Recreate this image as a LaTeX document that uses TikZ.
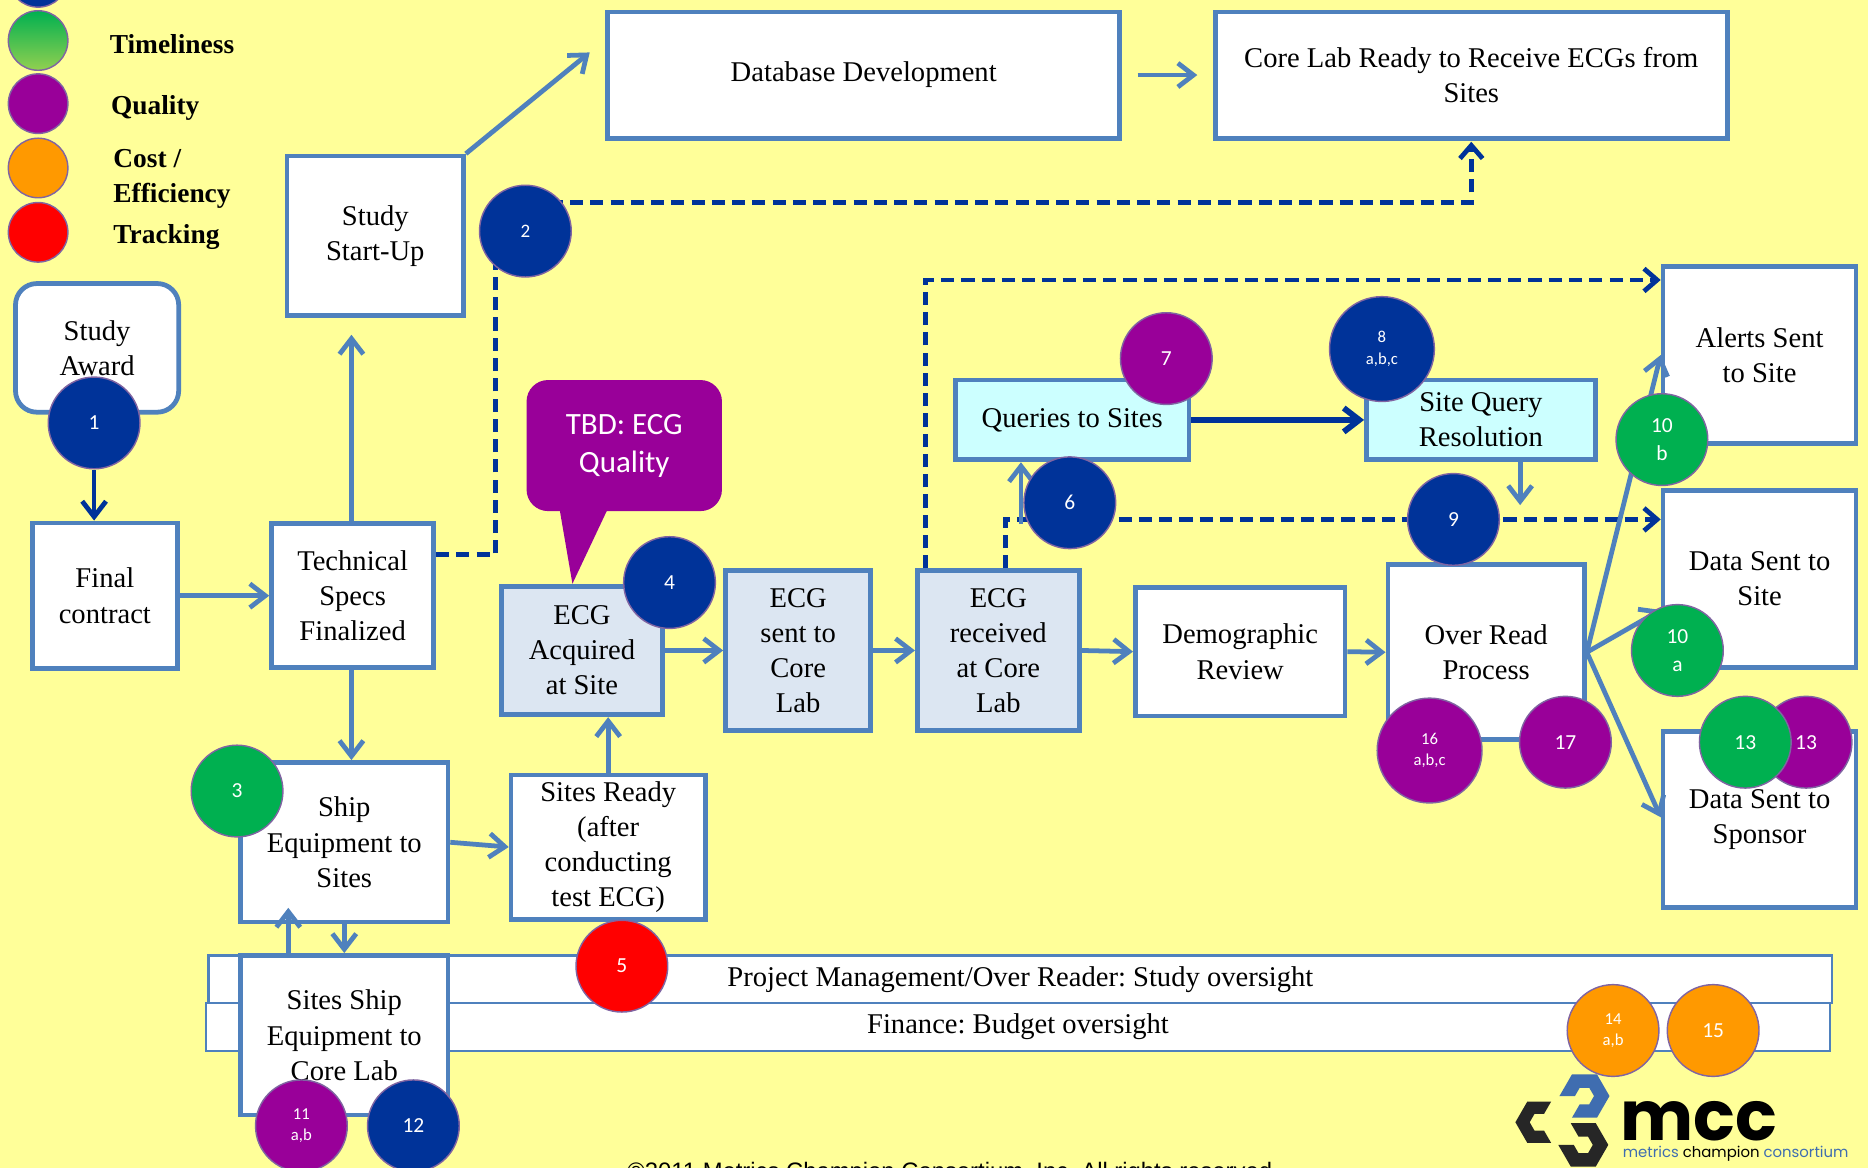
\documentclass[tikz,border=0pt]{standalone}
\usepackage{fontspec}
\setmainfont{Liberation Serif}
\newfontfamily\calfont{Carlito}
\newfontfamily\arialfont{Liberation Sans}
\newfontfamily\logofont{Poppins}
\usepackage{xcolor}
\usepackage{tikz}
\usetikzlibrary{arrows.meta,calc}
\frenchspacing
\definecolor{paper}{HTML}{FFFF99}
\definecolor{boxblue}{HTML}{4F81BD}
\definecolor{navy}{HTML}{003399}
\definecolor{qpurple}{HTML}{990099}
\definecolor{tgreen}{HTML}{00B050}
\definecolor{lgreen}{HTML}{92D050}
\definecolor{corange}{HTML}{FF9900}
\definecolor{tred}{HTML}{FF0000}
\definecolor{ecgfill}{HTML}{DCE6F2}
\definecolor{qfill}{HTML}{CCFFFF}
\definecolor{ring}{HTML}{8064A2}
\definecolor{logoblue}{HTML}{3F6DB0}
\tikzstyle{box}=[draw=boxblue,line width=4pt,fill=white,align=center,inner sep=2pt,font=\fontsize{24}{29.5}\selectfont]
\tikzstyle{ecg}=[box,fill=ecgfill]
\tikzstyle{query}=[box,fill=qfill]
\tikzstyle{band}=[draw=boxblue,line width=2pt,fill=white,outer sep=0pt,font=\fontsize{24}{29.5}\selectfont]
\tikzstyle{flow}=[draw=boxblue,line width=4pt,-{Straight Barb[length=13pt,width=20pt]}]
\tikzstyle{dashflow}=[draw=navy,line width=4pt,dash pattern=on 11pt off 6pt,-{Straight Barb[length=11pt,width=19pt]}]
\tikzstyle{bubble}=[circle,draw=ring,line width=1.2pt,minimum size=77pt,inner sep=0pt,text=white,align=center,font=\calfont\fontsize{18}{24}\selectfont]
\tikzstyle{twoline}=[font=\calfont\fontsize{14}{18}\selectfont]
\tikzstyle{keytext}=[anchor=west,align=left,inner sep=0pt,font=\bfseries\fontsize{23}{29}\selectfont]

\begin{document}
\begin{tikzpicture}[x=1pt,y=-1pt]
	\useasboundingbox (0,0) rectangle (1568,980);
	\clip (0,0) rectangle (1568,980);
	\fill[paper] (0,0) rectangle (1568,980);

	\node[bubble,minimum size=50pt,fill=navy] (lsafe) at (32,-19) {};
	\node[bubble,minimum size=50pt,top color=tgreen,bottom color=lgreen] (ltime) at (32,34) {};
	\node[bubble,minimum size=50pt,fill=qpurple] (lqual) at (32,87) {};
	\node[bubble,minimum size=50pt,fill=corange] (lcost) at (32,141) {};
	\node[bubble,minimum size=50pt,fill=tred] (ltrack) at (32,195) {};
	\node[keytext] (ktime) at (92,37) {Timeliness};
	\node[keytext] (kqual) at (93,91) {Quality};
	\node[keytext] (kcost) at (95,150) {Cost /\\Efficiency};
	\node[keytext] (ktrack) at (95,199) {Tracking};

	\node[band,minimum width=1363pt,minimum height=40pt] (pm) at (856.5,822) {Project Management/Over Reader: Study oversight};
	\node[band,minimum width=1363pt,minimum height=40pt] (fin) at (854.5,862) {Finance: Budget oversight};

	\node[box,rounded corners=18pt,minimum width=137pt,minimum height=108pt] (award) at (81.5,292) {Study\\Award};
	\node[box,minimum width=122pt,minimum height=122pt] (final) at (88,500) {Final\\contract};
	\node[box,minimum width=136pt,minimum height=121pt] (tech) at (296,500) {Technical\\Specs\\Finalized};
	\node[box,minimum width=148pt,minimum height=134pt] (startup) at (315,198) {Study\\Start-Up};
	\node[box,minimum width=430pt,minimum height=106pt] (dbdev) at (725,63) {Database Development};
	\node[box,minimum width=430pt,minimum height=106pt] (coreready) at (1235,63) {Core Lab Ready to Receive ECGs from\\Sites};
	\node[ecg,minimum width=135pt,minimum height=108pt] (acq) at (488.5,546) {ECG\\Acquired\\at Site};
	\node[ecg,minimum width=122pt,minimum height=134pt] (sent) at (670,546) {ECG\\sent to\\Core\\Lab};
	\node[ecg,minimum width=136pt,minimum height=134pt] (recv) at (838,546) {ECG\\received\\at Core\\Lab};
	\node[box,minimum width=176pt,minimum height=108pt] (demo) at (1041,547) {Demographic\\Review};
	\node[box,minimum width=165pt,minimum height=147pt] (overread) at (1247.5,547.5) {Over Read\\Process};
	\node[query,minimum width=196pt,minimum height=67pt] (queries) at (900,352.5) {Queries to Sites};
	\node[query,minimum width=192pt,minimum height=67pt] (sqr) at (1243,352.5) {Site Query\\Resolution};
	\node[box,minimum width=162pt,minimum height=148pt] (alerts) at (1477,298) {Alerts Sent\\to Site};
	\node[box,minimum width=162pt,minimum height=148pt] (dsite) at (1477,486) {Data Sent to\\Site};
	\node[box,minimum width=162pt,minimum height=148pt] (dsponsor) at (1477,688) {Data Sent to\\Sponsor};
	\node[box,minimum width=174pt,minimum height=134pt] (ship) at (289,707) {Ship\\Equipment to\\Sites};
	\node[box,minimum width=163pt,minimum height=121pt] (ready) at (510.5,711) {Sites Ready\\(after\\conducting\\test ECG)};
	\node[box,minimum width=174pt,minimum height=134pt] (shipcore) at (289,869) {Sites Ship\\Equipment to\\Core Lab};

	\node[fill=qpurple,rounded corners=18pt,minimum width=164pt,minimum height=110pt,text=white,align=center,font=\calfont\fontsize{26}{32}\selectfont] (tbd) at (524,374) {TBD: ECG\\Quality};
	\fill[qpurple] ([xshift=-55pt,yshift=6pt]tbd.south) -- ([xshift=-8pt]acq.north) -- ([xshift=-12pt,yshift=6pt]tbd.south) -- cycle;

	\coordinate (dbtip) at (495,44);
	\coordinate (d2) at (416,170);
	\coordinate (q6) at (857,440);
	\coordinate (sq9) at (1276,424);
	\coordinate (shiptip) at (242,762);

	\draw[dashflow,shorten >=1pt] ([yshift=34.5pt]tech.east) -| (d2) -| (coreready.south);
	\draw[dashflow] ([xshift=9pt]recv.north west) |- ([yshift=-13pt]alerts.north west);
	\draw[dashflow] ([xshift=76pt]recv.north west) |- ([yshift=-26pt]dsite.north west);

	\draw[flow] (final.east) -- (tech.west);
	\draw[flow,shorten >=14pt] ([xshift=-1pt]tech.north) -- ([xshift=-1pt]tech.north |- startup.south);
	\draw[flow] (startup.north east) -- (dbtip);
	\draw[flow,shorten <=13pt,shorten >=13pt] (dbdev.east) -- (coreready.west);
	\draw[flow] ([xshift=-1pt]tech.south) -- ([xshift=-1pt]tech.south |- ship.north);
	\draw[flow] (ship.east) -- (ready.west);
	\draw[flow] (ready.north) -- (ready.north |- acq.south);
	\draw[flow] (ship.south) -- (shipcore.north);
	\draw[flow] ([xshift=-47pt]shipcore.north) -- (shiptip);
	\draw[flow] (acq.east) -- (sent.west);
	\draw[flow] (sent.east) -- (recv.west);
	\draw[flow] (recv.east) -- (demo.west);
	\draw[flow] (demo.east) -- (overread.west);
	\draw[flow] (overread.east) -- (alerts.west);
	\draw[flow] (overread.east) -- ([yshift=-26pt]dsite.west);
	\draw[flow] (overread.east) -- ([yshift=2pt]dsponsor.west);
	\draw[flow] (q6) -- (q6 |- queries.south);
	\draw[flow] ([xshift=33pt]sqr.south) -- (sq9);
	\draw[flow,draw=navy,line width=5pt] (queries.east) -- (sqr.west);

	\node[bubble,fill=navy] (c1) at (79,355) {1};
	\node[bubble,fill=navy,font=\calfont\fontsize{16}{20}\selectfont] (c2) at (441,194) {2};
	\node[bubble,fill=tgreen] (c3) at (199,664) {3};
	\node[bubble,fill=navy] (c4) at (562,489) {4};
	\node[bubble,fill=tred] (c5) at (522,811) {5};
	\node[bubble,fill=navy] (c6) at (898,422) {6};
	\node[bubble,fill=qpurple] (c7) at (979,301) {7};
	\node[bubble,fill=navy,twoline,minimum size=88pt] (c8) at (1160,293) {8\\a,b,c};
	\node[bubble,fill=navy] (c9) at (1220,436) {9};
	\node[bubble,fill=tgreen] (c10b) at (1395,369) {10\\b};
	\node[bubble,fill=tgreen] (c10a) at (1408,546) {10\\a};
	\node[bubble,fill=qpurple,twoline] (c11) at (253,945) {11\\a,b};
	\node[bubble,fill=navy] (c12) at (347,945) {12};
	\node[bubble,fill=qpurple] (c13q) at (1516,623) {13};
	\node[bubble,fill=tgreen] (c13t) at (1465,623) {13};
	\node[bubble,fill=corange,twoline] (c14) at (1354,865) {14\\a,b};
	\node[bubble,fill=corange] (c15) at (1438,865) {15};
	\node[bubble,fill=qpurple,twoline,minimum size=88pt] (c16) at (1200,630) {16\\a,b,c};
	\node[bubble,fill=qpurple] (c17) at (1314,623) {17};

	\draw[flow,draw=navy] (c1.south) -- (c1.south |- final.north);

	\begin{scope}[shift={(1330,920)}]
		\fill[logoblue] (180:21) -- (240:21) -- (300:21) -- (0:21) -- (60:21) -- (120:21) -- (120:8) -- (60:8) -- (0:8) -- (300:8) -- (240:8) -- (180:8) -- cycle;
	\end{scope}
	\begin{scope}[shift={(1292,942)}]
		\fill[black!85] (60:20) -- (120:20) -- (180:20) -- (240:20) -- (300:20) -- (300:8) -- (240:8) -- (180:8) -- (120:8) -- (60:8) -- cycle;
	\end{scope}
	\begin{scope}[shift={(1329,961)}]
		\fill[black!85] (240:21) -- (300:21) -- (0:21) -- (60:21) -- (120:21) -- (180:21) -- (180:8) -- (120:8) -- (60:8) -- (0:8) -- (300:8) -- (240:8) -- cycle;
	\end{scope}
	\node[anchor=base west,inner sep=0pt,text depth=0pt,font=\logofont\bfseries\fontsize{58}{60}\selectfont] (mcc) at (1360,957) {mcc};
	\node[anchor=base west,inner sep=0pt,font=\logofont\fontsize{12.5}{14}\selectfont] (mcctag) at (1362,972) {\textcolor{logoblue}{metrics} champion \textcolor{logoblue}{consortium}};

	\node[anchor=base,inner sep=0pt,font=\arialfont\fontsize{20}{24}\selectfont] (copy) at (800,990) {©2011 Metrics Champion Consortium, Inc. All rights reserved.};
\end{tikzpicture}
\end{document}
